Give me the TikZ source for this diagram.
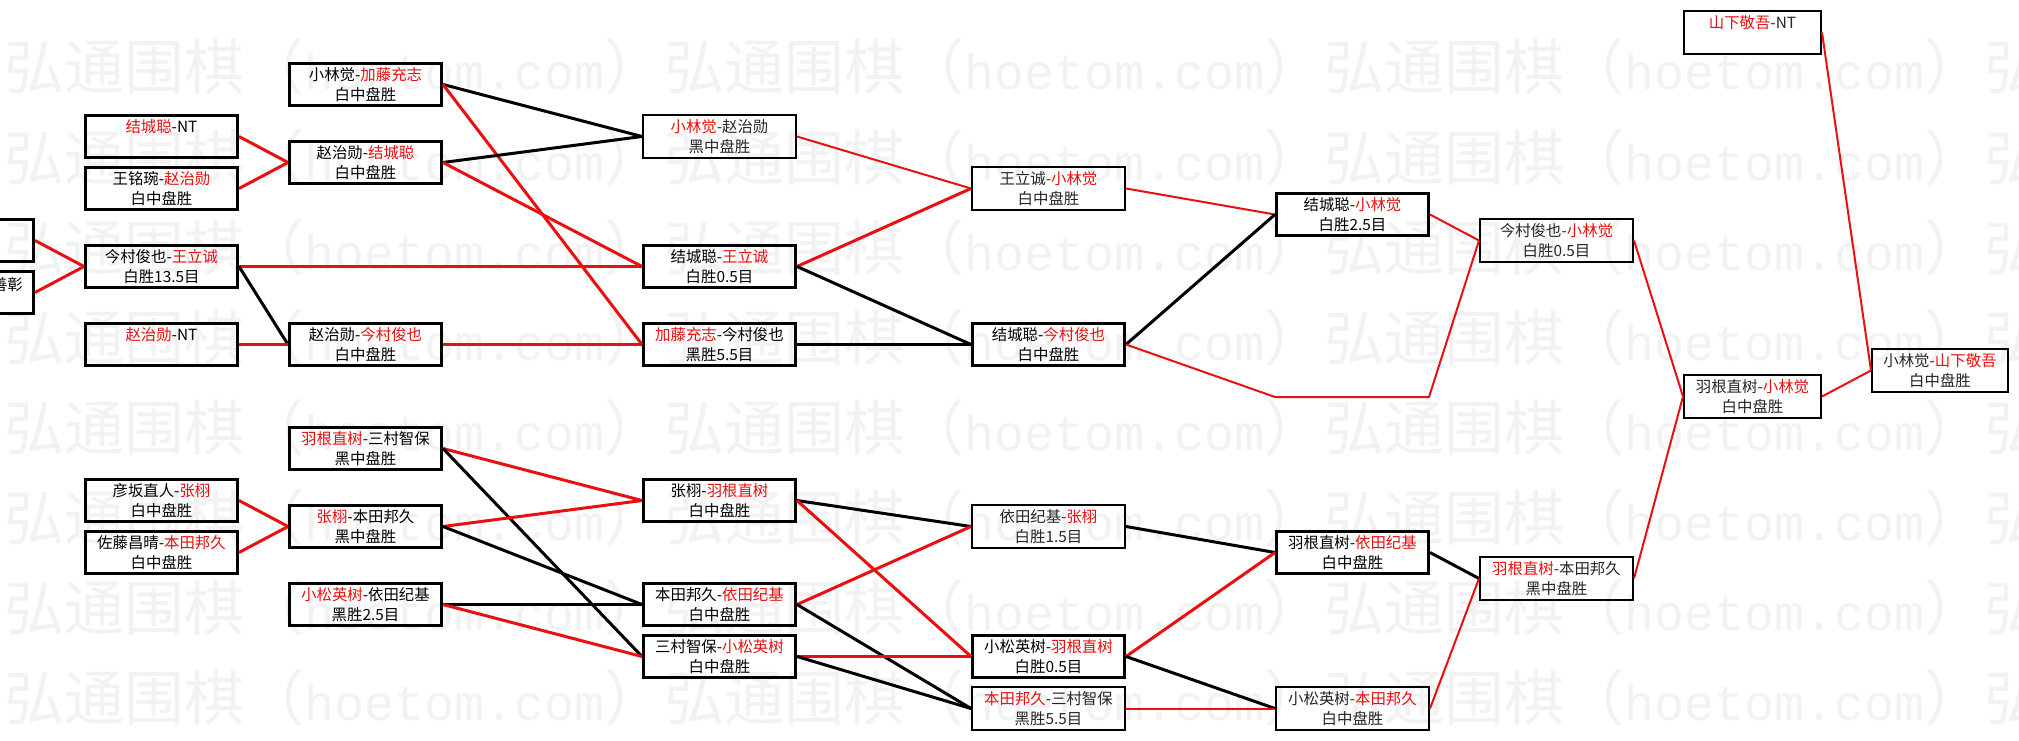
\documentclass[tikz,border=0pt]{standalone}
\usepackage{fontspec}
\newfontfamily\cjk{Noto Sans CJK SC}
\newfontfamily\wmmono{Liberation Mono}
\definecolor{winred}{RGB}{232,16,16}
\definecolor{wmgray}{RGB}{242,242,242}
\newcommand{\win}[1]{\textcolor{winred}{#1}}
\newcommand{\wmtext}{{\cjk\fontsize{60}{60}\selectfont 弘通围棋（}{\wmmono\fontsize{50}{50}\selectfont hoetom.com}{\cjk\fontsize{60}{60}\selectfont ）}}
\begin{document}
\begin{tikzpicture}[x=1pt, y=-1pt,
    matchbox/.style={draw, line width=3pt, anchor=north west, minimum width=152pt, minimum height=42pt,
      inner sep=0pt, align=center, font=\cjk\fontsize{15.4}{20}\selectfont},
    matchthin/.style={matchbox, line width=2pt, minimum width=153pt, minimum height=43pt, text=black!85},
    wonline/.style={draw=winred, line width=3pt},
    lostline/.style={draw=black, line width=3pt},
    wonthin/.style={draw=winred, line width=2pt},
    lostthin/.style={draw=black, line width=2pt},
    wmark/.style={anchor=base west, inner sep=0pt, text=wmgray}]
    \useasboundingbox (0,0) rectangle (2019,741);
    \clip (0,0) rectangle (2019,741);
    \fill[white] (0,0) rectangle (2019,741);
    \foreach \k in {0,...,7}
      \foreach \j in {0,...,3}
        \node[wmark] (wm\k\j) at ({660*\j+4}, {90*\k+90}) {\wmtext};

    \node[matchbox] (r0a) at (-120,218) {};
    \node[matchbox] (r0b) at (-120,270) {};
    \node[anchor=base east, inner sep=0pt, font=\cjk\fontsize{15.4}{20}\selectfont] (r0blabel) at (23,290) {善彰};

    \node[matchbox] (r1a) at (84,114) {\win{结城聪}-NT\\\phantom{白}};
    \node[matchbox] (r1b) at (84,166) {王铭琬-\win{赵治勋}\\白中盘胜};
    \node[matchbox] (r1c) at (84,244) {今村俊也-\win{王立诚}\\白胜13.5目};
    \node[matchbox] (r1d) at (84,322) {\win{赵治勋}-NT\\\phantom{白}};
    \node[matchbox] (r1e) at (84,478) {彦坂直人-\win{张栩}\\白中盘胜};
    \node[matchbox] (r1f) at (84,530) {佐藤昌晴-\win{本田邦久}\\白中盘胜};

    \node[matchbox] (r2a) at (288,62) {小林觉-\win{加藤充志}\\白中盘胜};
    \node[matchbox] (r2b) at (288,140) {赵治勋-\win{结城聪}\\白中盘胜};
    \node[matchbox] (r2c) at (288,322) {赵治勋-\win{今村俊也}\\白中盘胜};
    \node[matchbox] (r2d) at (288,426) {\win{羽根直树}-三村智保\\黑中盘胜};
    \node[matchbox] (r2e) at (288,504) {\win{张栩}-本田邦久\\黑中盘胜};
    \node[matchbox] (r2f) at (288,582) {\win{小松英树}-依田纪基\\黑胜2.5目};

    \node[matchthin] (r3a) at (642,114) {\win{小林觉}-赵治勋\\黑中盘胜};
    \node[matchbox] (r3b) at (642,244) {结城聪-\win{王立诚}\\白胜0.5目};
    \node[matchbox] (r3c) at (642,322) {\win{加藤充志}-今村俊也\\黑胜5.5目};
    \node[matchbox] (r3d) at (642,478) {张栩-\win{羽根直树}\\白中盘胜};
    \node[matchbox] (r3e) at (642,582) {本田邦久-\win{依田纪基}\\白中盘胜};
    \node[matchbox] (r3f) at (642,634) {三村智保-\win{小松英树}\\白中盘胜};

    \node[matchthin] (r4a) at (971,166) {王立诚-\win{小林觉}\\白中盘胜};
    \node[matchbox] (r4b) at (971,322) {结城聪-\win{今村俊也}\\白中盘胜};
    \node[matchthin] (r4c) at (971,504) {依田纪基-\win{张栩}\\白胜1.5目};
    \node[matchbox] (r4d) at (971,634) {小松英树-\win{羽根直树}\\白胜0.5目};
    \node[matchthin] (r4e) at (971,686) {\win{本田邦久}-三村智保\\黑胜5.5目};

    \node[matchbox] (r5a) at (1275,192) {结城聪-\win{小林觉}\\白胜2.5目};
    \node[matchbox] (r5b) at (1275,530) {羽根直树-\win{依田纪基}\\白中盘胜};
    \node[matchthin] (r5c) at (1275,686) {小松英树-\win{本田邦久}\\白中盘胜};
    \coordinate (bye1) at (1275,397);
    \coordinate (bye2) at (1429,397);

    \node[matchthin] (r6a) at (1479,218) {今村俊也-\win{小林觉}\\白胜0.5目};
    \node[matchthin] (r6b) at (1479,556) {\win{羽根直树}-本田邦久\\黑中盘胜};

    \node[matchthin, minimum width=137pt] (r7a) at (1683,10) {\win{山下敬吾}-NT\\\phantom{白}};
    \node[matchthin, minimum width=137pt] (r7b) at (1683,374) {羽根直树-\win{小林觉}\\白中盘胜};
    \node[matchthin, minimum width=136pt] (r8a) at (1871,348) {小林觉-\win{山下敬吾}\\白中盘胜};

    \draw[wonline] (r0a.east) -- (r1c.west);
    \draw[wonline] (r0b.east) -- (r1c.west);
    \draw[wonline] (r1a.east) -- (r2b.west);
    \draw[wonline] (r1b.east) -- (r2b.west);
    \draw[wonline] (r1c.east) -- (r3b.west);
    \draw[lostline] (r1c.east) -- (r2c.west);
    \draw[wonline] (r1d.east) -- (r2c.west);
    \draw[lostline] (r2a.east) -- (r3a.west);
    \draw[wonline] (r2a.east) -- (r3c.west);
    \draw[lostline] (r2b.east) -- (r3a.west);
    \draw[wonline] (r2b.east) -- (r3b.west);
    \draw[wonline] (r2c.east) -- (r3c.west);
    \draw[wonthin] (r3a.east) -- (r4a.west);
    \draw[wonline] (r3b.east) -- (r4a.west);
    \draw[lostline] (r3b.east) -- (r4b.west);
    \draw[lostline] (r3c.east) -- (r4b.west);
    \draw[wonthin] (r4a.east) -- (r5a.west);
    \draw[lostline] (r4b.east) -- (r5a.west);
    \draw[wonthin] (r4b.east) -- (bye1) -- (bye2) -- (r6a.west);
    \draw[wonthin] (r5a.east) -- (r6a.west);
    \draw[wonthin] (r6a.east) -- (r7b.west);
    \draw[wonthin] (r6b.east) -- (r7b.west);
    \draw[wonthin] (r7b.east) -- (r8a.west);
    \draw[wonthin] (r7a.east) -- (r8a.west);

    \draw[wonline] (r1e.east) -- (r2e.west);
    \draw[wonline] (r1f.east) -- (r2e.west);
    \draw[wonline] (r2d.east) -- (r3d.west);
    \draw[lostline] (r2d.east) -- (r3f.west);
    \draw[wonline] (r2e.east) -- (r3d.west);
    \draw[lostline] (r2e.east) -- (r3e.west);
    \draw[lostline] (r2f.east) -- (r3e.west);
    \draw[wonline] (r2f.east) -- (r3f.west);
    \draw[lostline] (r3d.east) -- (r4c.west);
    \draw[wonline] (r3d.east) -- (r4d.west);
    \draw[wonline] (r3e.east) -- (r4c.west);
    \draw[lostline] (r3e.east) -- (r4e.west);
    \draw[wonline] (r3f.east) -- (r4d.west);
    \draw[lostline] (r3f.east) -- (r4e.west);
    \draw[lostline] (r4c.east) -- (r5b.west);
    \draw[wonline] (r4d.east) -- (r5b.west);
    \draw[lostline] (r4d.east) -- (r5c.west);
    \draw[wonthin] (r4e.east) -- (r5c.west);
    \draw[lostline] (r5b.east) -- (r6b.west);
    \draw[wonthin] (r5c.east) -- (r6b.west);
\end{tikzpicture}
\end{document}
